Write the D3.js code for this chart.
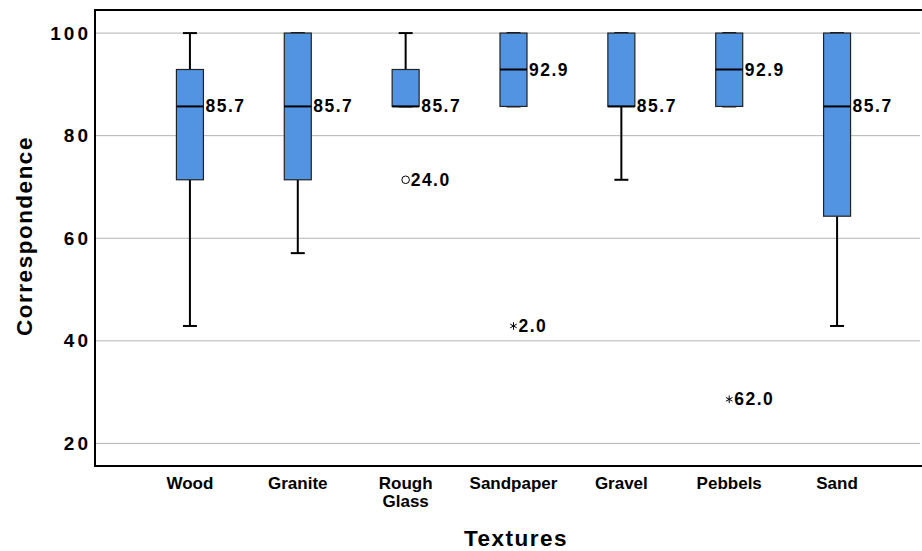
<!DOCTYPE html>
<html>
<head>
<meta charset="UTF-8">
<title>Correspondence by texture</title>
<script src="https://cdnjs.cloudflare.com/ajax/libs/d3/7.8.5/d3.min.js"></script>
<style>
    body { margin: 0; background: #fff; }
    svg { display: block; font-family: "Liberation Sans", Arial, sans-serif; }
    .grid line { stroke: #b4b4b4; stroke-width: 1; }
    .ytick { font-size: 19px; font-weight: bold; letter-spacing: 3px; }
    .xlab { font-size: 17px; font-weight: bold; }
    .vlab { font-size: 17.5px; font-weight: bold; letter-spacing: 1.5px; }
    .title { font-size: 22.5px; font-weight: bold; letter-spacing: 1.5px; }
</style>
</head>
<body>
<svg width="922" height="551"></svg>
<script>
    // data
    const textures = ["Wood", "Granite", "Rough Glass", "Sandpaper", "Gravel", "Pebbels", "Sand"];
    const lows    = [42.9, 57.1, 85.7, 85.7, 71.4, 85.7, 42.9];
    const q1s     = [71.4, 71.4, 85.7, 85.7, 85.7, 85.7, 64.3];
    const medians = [85.7, 85.7, 85.7, 92.9, 85.7, 92.9, 85.7];
    const q3s     = [92.9, 100, 92.9, 100, 100, 100, 100];
    const highs   = [100, 100, 100, 100, 100, 100, 100];
    const outliers = [
        { texture: "Rough Glass", value: 71.4, label: "24.0", kind: "circle" },
        { texture: "Sandpaper", value: 42.9, label: "2.0", kind: "star" },
        { texture: "Pebbels", value: 28.6, label: "62.0", kind: "star" }
    ];
    const yTicks = [20, 40, 60, 80, 100];

    const svg = d3.select("svg");
    const plotL = 95, plotT = 10, plotB = 466, plotR = 922;

    const y = d3.scaleLinear().domain([15.6, 104.5]).range([plotB, plotT]);
    const x = d3.scaleBand().domain(textures).range([136, 891]);
    const boxW = 27, capW = 14;

    // gridlines
    svg.append("g").attr("class", "grid")
        .selectAll("line").data(yTicks).enter().append("line")
        .attr("x1", plotL).attr("x2", plotR - 2)
        .attr("y1", d => y(d)).attr("y2", d => y(d));

    // y tick labels
    svg.append("g").selectAll("text").data(yTicks).enter().append("text")
        .attr("class", "ytick")
        .attr("x", 91).attr("y", d => y(d))
        .attr("text-anchor", "end")
        .attr("dominant-baseline", "central")
        .text(d => d);

    // frame
    svg.append("path")
        .attr("d", `M${plotR},${plotT}H${plotL}V${plotB}H${plotR}`)
        .attr("fill", "none").attr("stroke", "#000").attr("stroke-width", 2);

    const boxes = textures.map((t, i) => ({
        t, lo: lows[i], q1: q1s[i], med: medians[i], q3: q3s[i], hi: highs[i]
    }));

    const g = svg.append("g").selectAll("g").data(boxes).enter().append("g")
        .attr("transform", d => `translate(${x(d.t) + x.bandwidth() / 2},0)`);

    // whiskers
    g.append("line").attr("x1", 0).attr("x2", 0)
        .attr("y1", d => y(d.hi)).attr("y2", d => y(d.q3))
        .attr("stroke", "#000").attr("stroke-width", 2);
    g.append("line").attr("x1", 0).attr("x2", 0)
        .attr("y1", d => y(d.q1)).attr("y2", d => y(d.lo))
        .attr("stroke", "#000").attr("stroke-width", 2);
    g.append("line").attr("x1", -capW / 2).attr("x2", capW / 2)
        .attr("y1", d => y(d.hi)).attr("y2", d => y(d.hi))
        .attr("stroke", "#000").attr("stroke-width", 2);
    g.append("line").attr("x1", -capW / 2).attr("x2", capW / 2)
        .attr("y1", d => y(d.lo)).attr("y2", d => y(d.lo))
        .attr("stroke", "#000").attr("stroke-width", 2);

    // boxes
    g.append("rect")
        .attr("x", -boxW / 2).attr("width", boxW)
        .attr("y", d => y(d.q3)).attr("height", d => y(d.q1) - y(d.q3))
        .attr("fill", "#5294e2").attr("stroke", "#222").attr("stroke-width", 1.2);

    // medians
    g.append("line").attr("x1", -boxW / 2).attr("x2", boxW / 2)
        .attr("y1", d => y(d.med)).attr("y2", d => y(d.med))
        .attr("stroke", "#000").attr("stroke-width", 2);
    g.append("text").attr("class", "vlab")
        .attr("x", boxW / 2 + 2).attr("y", d => y(d.med))
        .attr("dominant-baseline", "central")
        .text(d => d.med.toFixed(1));

    // outliers and extremes
    const o = svg.append("g").selectAll("g").data(outliers).enter().append("g")
        .attr("transform", d => `translate(${x(d.texture) + x.bandwidth() / 2},${y(d.value)})`);
    o.filter(d => d.kind === "circle").append("circle")
        .attr("r", 3.8).attr("fill", "none").attr("stroke", "#000").attr("stroke-width", 1);
    o.filter(d => d.kind === "star").append("path")
        .attr("d", d3.symbol(d3.symbolAsterisk, 40))
        .attr("fill", "none").attr("stroke", "#000").attr("stroke-width", 1);
    o.append("text").attr("class", "vlab")
        .attr("x", 5).attr("dominant-baseline", "central")
        .text(d => d.label);

    // x category labels
    const xl = svg.append("g").selectAll("text").data(textures).enter().append("text")
        .attr("class", "xlab")
        .attr("text-anchor", "middle")
        .attr("x", d => x(d) + x.bandwidth() / 2)
        .attr("y", 489);
    xl.each(function(d) {
        const words = d.split(" ");
        const el = d3.select(this);
        words.forEach((w, i) => {
            el.append("tspan").attr("x", x(d) + x.bandwidth() / 2)
                .attr("dy", i === 0 ? 0 : 17.5).text(w);
        });
    });

    // axis titles
    svg.append("text").attr("class", "title")
        .attr("x", 516).attr("y", 546).attr("text-anchor", "middle")
        .text("Textures");
    svg.append("text").attr("class", "title")
        .attr("transform", "translate(32,236) rotate(-90)")
        .attr("text-anchor", "middle")
        .text("Correspondence");
</script>
</body>
</html>
